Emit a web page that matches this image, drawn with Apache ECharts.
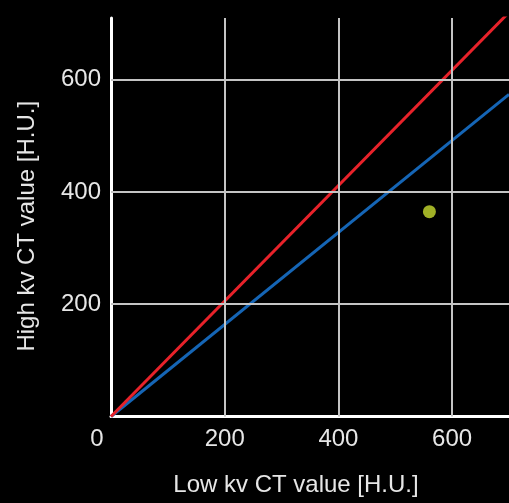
<!DOCTYPE html>
<html>
<head>
<meta charset="utf-8">
<script src="https://cdn.jsdelivr.net/npm/echarts@6/dist/echarts.min.js"></script>
<style>
html,body{margin:0;padding:0;background:#000;}
#chart{width:509px;height:503px;}
</style>
</head>
<body>
<div id="chart"></div>
<script>
// Data
const xTicks = [0, 200, 400, 600];
const yTicks = [200, 400, 600];
const redLine = [[0, 0], [700, 720]];
const blueLine = [[0, 0], [700, 574]];
const measuredPoint = [[560, 365]];
const xName = 'Low kv CT value [H.U.]';
const yName = 'High kv CT value [H.U.]';

const font = 'Liberation Sans';
const fs = 24;
const txt = '#e6e6e6';
const gridColor = '#c4c4c4';
const gridLines = xTicks.filter(v => v > 0).map(v => ({xAxis: v}))
  .concat(yTicks.map(v => ({yAxis: v})));

const chart = echarts.init(document.getElementById('chart'));
chart.setOption({
  backgroundColor: '#000',
  animation: false,
  grid: {left: 111, right: 0, top: 18, bottom: 86.5},
  xAxis: {
    type: 'value', min: 0, max: 700, interval: 200,
    name: xName, nameLocation: 'middle', nameGap: 57,
    nameTextStyle: {color: txt, fontFamily: font, fontSize: fs, padding: [0, 28, 0, 0]},
    axisLine: {show: true, onZero: false, lineStyle: {color: '#fff', width: 3}},
    axisTick: {show: false},
    axisLabel: {
      color: txt, fontFamily: font, fontSize: fs, margin: 11,
      showMaxLabel: false,
      formatter: function (v) { return v === 0 ? '{z|0}' : (xTicks.indexOf(v) >= 0 ? String(v) : ''); },
      rich: {z: {color: txt, fontFamily: font, fontSize: fs, padding: [0, 28, 0, 0]}}
    },
    splitLine: {show: false}
  },
  yAxis: {
    type: 'value', min: 0, max: 710, interval: 200,
    name: yName, nameLocation: 'middle', nameGap: 72, nameRotate: 90,
    nameTextStyle: {color: txt, fontFamily: font, fontSize: fs, padding: [0, 18, 0, 0]},
    axisLine: {show: true, onZero: false, lineStyle: {color: '#fff', width: 3}},
    axisTick: {show: false},
    axisLabel: {
      color: txt, fontFamily: font, fontSize: fs, margin: 10,
      showMaxLabel: false,
      formatter: function (v) { return yTicks.indexOf(v) >= 0 ? String(v) : ''; }
    },
    splitLine: {show: false}
  },
  series: [
    {type: 'scatter', data: [], z: 1, silent: true,
     markLine: {silent: true, symbol: 'none', label: {show: false}, animation: false,
       lineStyle: {color: gridColor, width: 2, type: 'solid'}, emphasis: {disabled: true},
       data: gridLines}},
    {type: 'line', data: blueLine, symbol: 'none', lineStyle: {color: '#1565b5', width: 3}, clip: true, z: 3},
    {type: 'line', data: redLine, symbol: 'none', lineStyle: {color: '#e8222a', width: 3}, clip: true, z: 4},
    {type: 'scatter', data: measuredPoint, symbolSize: 13, itemStyle: {color: '#c8dc30'}, z: 5}
  ]
});
</script>
</body>
</html>
